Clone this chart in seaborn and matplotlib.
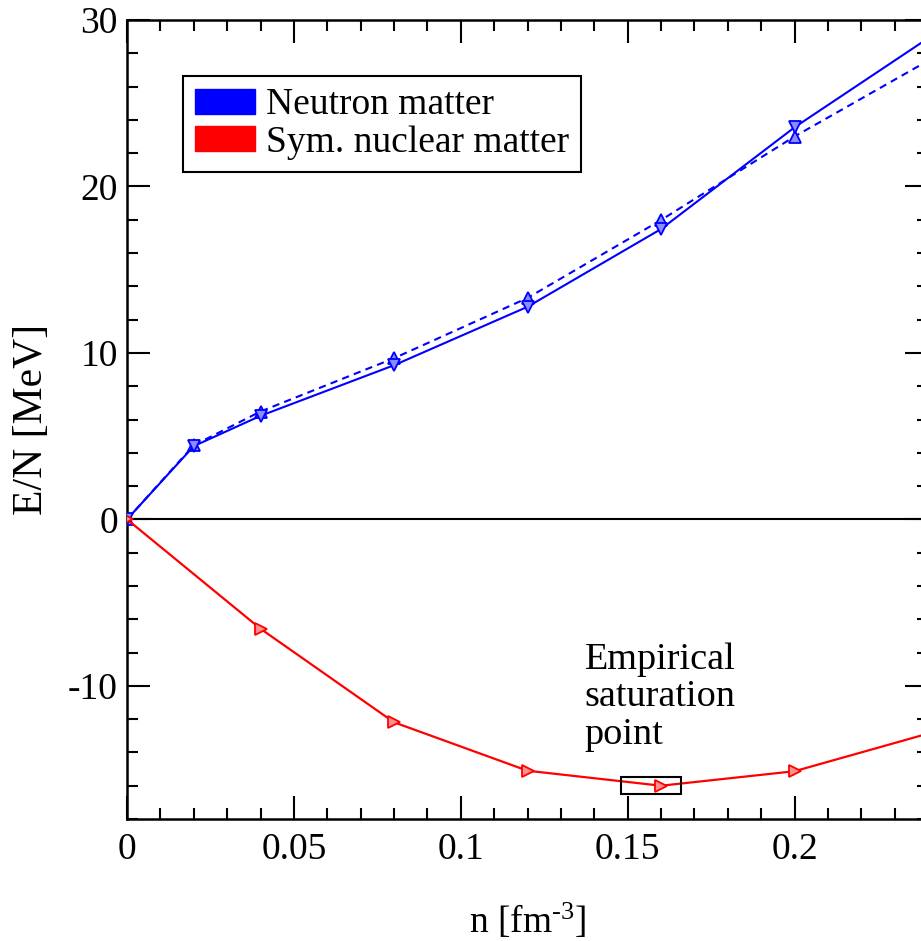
import numpy as np
import pandas as pd
import matplotlib
matplotlib.use("Agg")
import matplotlib.pyplot as plt
from matplotlib.patches import Patch, Rectangle
import seaborn as sns

# Energy per particle vs. density
pnm_density = [0.0, 0.02, 0.04, 0.08, 0.12, 0.16, 0.20, 0.24]
pnm_solid = [0.0, 4.40, 6.22, 9.26, 12.77, 17.44, 23.55, 28.9]
pnm_dashed = [0.0, 4.45, 6.48, 9.68, 13.30, 17.98, 23.00, 27.55]

snm_density = [0.0, 0.04, 0.08, 0.12, 0.16, 0.20, 0.24]
snm_energy = [0.0, -6.57, -12.19, -15.10, -16.00, -15.13, -12.87]

# Empirical saturation region: density range and energy range
sat_density = [0.148, 0.166]
sat_energy = [-16.5, -15.5]

legend_labels = ["Neutron matter", "Sym. nuclear matter"]

sns.set_style("ticks")
plt.rcParams["font.family"] = ["Liberation Serif", "DejaVu Serif"]
plt.rcParams["mathtext.fontset"] = "custom"
plt.rcParams["mathtext.rm"] = "Liberation Serif"
plt.rcParams["mathtext.default"] = "regular"
plt.rcParams["axes.unicode_minus"] = False
plt.rcParams["text.color"] = "black"
plt.rcParams["axes.labelcolor"] = "black"

fig = plt.figure(figsize=(9.21, 9.41), dpi=100)
ax = fig.add_axes([127 / 921, 122 / 941, 801 / 921, 799 / 941])

blue = "#0000ff"
red = "#ff0000"

df_solid = pd.DataFrame({"n": pnm_density, "E": pnm_solid})
df_dashed = pd.DataFrame({"n": pnm_density, "E": pnm_dashed})
df_snm = pd.DataFrame({"n": snm_density, "E": snm_energy})

ax.axhline(0, color="black", lw=1.5, zorder=1)

sns.lineplot(data=df_dashed, x="n", y="E", ax=ax, color=blue, lw=1.5,
             linestyle=(0, (3.5, 2.5)), marker="^", markersize=9,
             markerfacecolor="#8c8cff", markeredgecolor=blue,
             markeredgewidth=1.3, zorder=3)
sns.lineplot(data=df_solid, x="n", y="E", ax=ax, color=blue, lw=1.5,
             marker="v", markersize=9, markerfacecolor="#8c8cff",
             markeredgecolor=blue, markeredgewidth=1.3, zorder=3)
sns.lineplot(data=df_snm, x="n", y="E", ax=ax, color=red, lw=1.6,
             marker=">", markersize=9, markerfacecolor="#ff9090",
             markeredgecolor=red, markeredgewidth=1.3, zorder=3)

ax.add_patch(Rectangle((sat_density[0], sat_energy[0]),
                       sat_density[1] - sat_density[0],
                       sat_energy[1] - sat_energy[0],
                       fill=False, edgecolor="black", lw=1.5, zorder=4))

ax.text(0.1371, -7.38, "Empirical\nsaturation\npoint", fontsize=27.5,
        color="black", ha="left", va="top", linespacing=1.12)

ax.set_xlim(0, 0.24)
ax.set_ylim(-18, 30)
ax.set_xticks([0, 0.05, 0.1, 0.15, 0.2])
ax.set_xticklabels(["0", "0.05", "0.1", "0.15", "0.2"])
ax.set_xticks(np.arange(0, 0.2401, 0.01), minor=True)
ax.set_yticks([-10, 0, 10, 20, 30])
ax.set_yticks(np.arange(-18, 30.01, 2), minor=True)

ax.tick_params(which="both", direction="in", top=True, right=True,
               width=1.5, colors="black", labelsize=27)
ax.tick_params(which="major", length=16.5)
ax.tick_params(which="minor", length=8)
ax.tick_params(axis="x", which="major", pad=10)
ax.tick_params(axis="y", which="major", pad=6.5)
for s in ax.spines.values():
    s.set_linewidth(1.8)
    s.set_color("black")

ax.set_xlabel("n [fm$^{\u2010 3}$]", fontsize=27, labelpad=25, color="black")
ax.set_ylabel("E/N [MeV]", fontsize=30, labelpad=12, color="black")

handles = [Patch(facecolor=blue, edgecolor=blue),
           Patch(facecolor=red, edgecolor=red)]
leg = ax.legend(handles, legend_labels, loc="upper left",
                bbox_to_anchor=(56 / 801, (799 - 56) / 799), borderaxespad=0,
                fontsize=27, frameon=True, fancybox=False, framealpha=1,
                edgecolor="black", handlelength=1.6, handleheight=0.64,
                handletextpad=0.3, labelspacing=0.08, borderpad=0.32)
leg.get_frame().set_linewidth(1.5)
for t in leg.get_texts():
    t.set_color("black")

fig.savefig("out.png", dpi=100)
